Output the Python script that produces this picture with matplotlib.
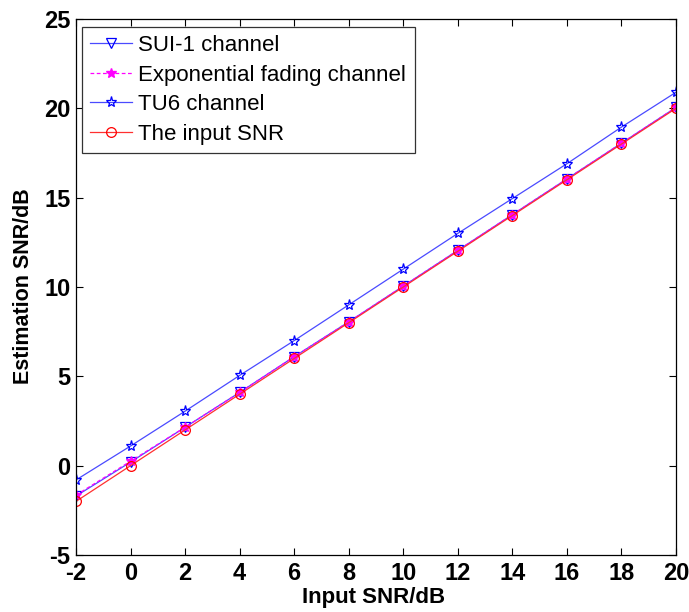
import matplotlib
matplotlib.use("Agg")
import matplotlib.pyplot as plt

x = [-2, 0, 2, 4, 6, 8, 10, 12, 14, 16, 18, 20]
sui1 = [-1.7, 0.2, 2.15, 4.1, 6.1, 8.05, 10.05, 12.05, 14.05, 16.05, 18.05, 20.05]
expo = [-1.65, 0.25, 2.15, 4.1, 6.1, 8.05, 10.05, 12.05, 14.05, 16.05, 18.05, 20.05]
tu6 = [-0.8, 1.1, 3.05, 5.05, 7.0, 9.0, 11.0, 13.0, 14.95, 16.9, 18.95, 20.9]
inp = [-2, 0, 2, 4, 6, 8, 10, 12, 14, 16, 18, 20]
labels = ["SUI-1 channel", "Exponential fading channel", "TU6 channel", "The input SNR"]

plt.rcParams['font.family'] = ['Liberation Sans', 'DejaVu Sans']
plt.rcParams['axes.unicode_minus'] = False
W, H = 689, 612
fig = plt.figure(figsize=(W / 100, H / 100), dpi=100)
L, R, T, B = 76, 676, 19, 555
ax = fig.add_axes([L / W, 1 - B / H, (R - L) / W, (B - T) / H])

ax.plot(x, sui1, color='#4a4aff', lw=0.9, marker='v', mfc='none', mec='#0000ff', ms=7, mew=0.9, label=labels[0])
ax.plot(x, expo, color='#ff00ff', lw=0.9, ls='--', dashes=(3, 2), marker='*', mfc='#ff00ff', mec='#ff00ff', ms=7, label=labels[1])
ax.plot(x, tu6, color='#4a4aff', lw=0.9, marker='*', mfc='none', mec='#0000ff', ms=8, mew=0.9, label=labels[2])
ax.plot(x, inp, color='#ff3030', lw=0.9, marker='o', mfc='none', mec='#ff0000', ms=7, mew=0.9, label=labels[3])

ax.set_xlim(-2, 20)
ax.set_ylim(-5, 25)
ax.set_xticks(list(range(-2, 21, 2)))
ax.set_yticks(list(range(-5, 26, 5)))
ax.tick_params(direction='in', top=True, right=True, labelsize=17, length=5, width=0.8)
ax.tick_params(axis='y', pad=4)
ax.tick_params(axis='x', pad=5)
for lab in ax.get_xticklabels() + ax.get_yticklabels():
    lab.set_fontweight('bold')
for s in ax.spines.values():
    s.set_linewidth(0.9)

ax.set_xlabel("Input SNR/dB", fontsize=16, fontweight='bold')
ax.xaxis.set_label_coords(((303 + 445) / 2 - L) / (R - L), -(597 - B) / (B - T))
ax.xaxis.label.set_va('center')
ax.set_ylabel("Estimation SNR/dB", fontsize=15.5, fontweight='bold')
ax.yaxis.set_label_coords((23.5 - L) / (R - L), 1 - ((190 + 383) / 2 - T) / (B - T))
ax.yaxis.label.set_va('center')

fs = 16
leg = ax.legend(loc='upper left', bbox_to_anchor=((82 - L) / (R - L), 1 - (27 - T) / (B - T)),
                borderaxespad=0, fontsize=fs, frameon=True, fancybox=False,
                edgecolor='#333333', framealpha=1, handlelength=1.9,
                labelspacing=0.38, handletextpad=0.27, borderpad=0.37)
leg.get_frame().set_linewidth(0.9)

fig.savefig("out.png", dpi=100)
